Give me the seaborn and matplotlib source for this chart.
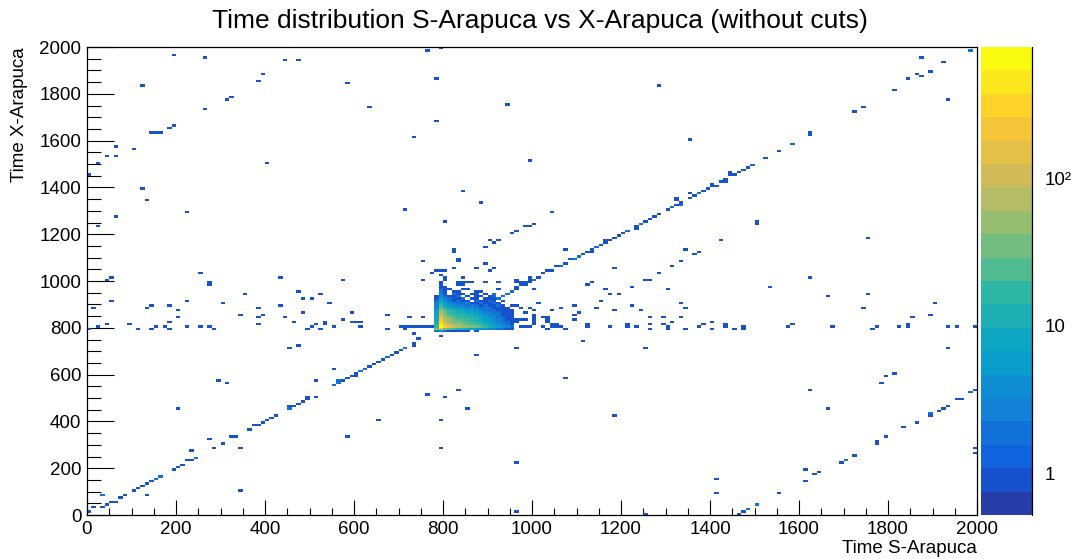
import numpy as np
import pandas as pd
import matplotlib
matplotlib.use("Agg")
import matplotlib.pyplot as plt
import seaborn as sns
from matplotlib.colors import LinearSegmentedColormap, ListedColormap, LogNorm
from matplotlib.ticker import MultipleLocator, FixedLocator, NullFormatter, LogLocator

# ---------------- data (bin lower edges, 10-unit bins) ----------------
title = "Time distribution S-Arapuca vs X-Arapuca (without cuts)"
x_label = "Time S-Arapuca"
y_label = "Time X-Arapuca"
x_ticks = [0, 200, 400, 600, 800, 1000, 1200, 1400, 1600, 1800, 2000]
y_ticks = [0, 200, 400, 600, 800, 1000, 1200, 1400, 1600, 1800, 2000]
z_ticks = [1, 10, 100]
z_tick_labels = ["1", "10", "10\u00b2"]

# cells with a single entry
single_hits = [
    (190,1960),(260,1950),(440,1940),(470,1940),(390,1880),(380,1850),(120,1830),(580,1840),
    (320,1780),(310,1770),(260,1730),(630,1740),(190,1660),(180,1650),(140,1630),(150,1630),
    (160,1630),(60,1570),(100,1560),(40,1530),(60,1530),(20,1500),(400,1500),(0,1450),
    (120,1390),(130,1340),(220,1290),(60,1270),(20,1230),(250,1030),(50,1010),(40,1000),
    (430,1010),(570,1000),(270,990),
    (760,1980),(790,1990),(780,1860),(940,1750),(1280,1830),(780,1680),(730,1610),(990,1510),
    (840,1380),(880,1330),(710,1300),(1040,1290),(800,1250),(980,1230),(990,1230),(1000,1240),
    (960,1210),(950,1200),(900,1170),(910,1160),(920,1170),(890,1140),(820,1120),(820,1130),
    (830,1080),(830,1090),(750,1080),(890,1070),(870,1050),(910,1050),(900,1040),(820,1050),
    (780,1040),(790,1040),(800,1040),(770,1030),(790,1020),(800,1010),(800,1000),(750,1000),
    (840,1010),(860,990),(830,990),(840,990),(920,990),(960,990),(970,990),(980,990),
    (1070,1130),(1180,1050),(1310,1060),(1280,1030),(1250,1000),(1260,1000),(1130,990),
    (990,1010),(1000,1000),(1010,1010),(1020,1030),(1030,1040),(1040,1040),(1050,1060),
    (1070,1070),(1080,1090),(1110,1110),(1120,1120),(1130,1130),(1130,1120),
    (1150,1150),(1160,1160),(1160,1170),(1170,1170),(1180,1180),(1190,1190),(1200,1200),
    (1230,1230),(1230,1220),(1250,1250),(1260,1260),(1270,1270),(1280,1280),
    (1300,1300),(1320,1320),(1330,1330),(1320,1350),(1320,1340),
    (1350,1370),(1350,1350),(1360,1360),(1380,1380),(1390,1390),(1400,1410),(1400,1400),
    (1410,1400),(1420,1420),(1430,1430),(1430,1420),(1440,1460),(1440,1450),(1450,1450),
    (1460,1460),(1470,1470),(1480,1480),(1490,1490),(1520,1520),(1550,1550),
    (1620,1630),(1620,1620),(1720,1720),(1740,1740),(1810,1810),(1840,1860),(1860,1880),
    (1870,1870),(1890,1890),(1870,1950),(1920,1930),(1930,1770),(1350,1600),
    (1500,1250),(1500,1240),(1420,1170),(1750,1180),(1340,1130),(1360,1110),(1370,1120),
    (1330,1080),(1620,1010),
    (270,980),(350,940),(470,950),(520,940),(480,920),(500,920),(50,910),(220,910),(300,900),
    (540,900),(10,880),(130,880),(140,890),(180,890),(200,870),(380,880),(430,890),(200,840),
    (340,850),(380,840),(390,850),(440,840),(480,860),(590,860),(180,820),(460,820),(570,830),
    (590,820),(600,820),(610,820),(40,810),(90,810),(380,810),(510,810),(530,820),(530,810),
    (20,800),(0,790),(110,790),(140,790),(150,800),(170,800),(180,790),(220,800),(250,800),
    (270,800),(280,790),(490,790),(500,800),(520,790),(550,800),(610,800),
    (450,710),(470,720),(550,620),(290,570),(310,560),(510,570),(200,450),(650,400),(580,330),
    (270,320),(300,300),(280,280),(340,280),(230,270),(340,100),(130,80),
    (0,10),(10,30),(30,30),(40,40),(50,50),(60,50),(70,70),(80,80),(100,100),(110,110),
    (120,120),(130,130),(140,140),(190,190),(200,200),(210,210),(220,230),(230,230),
    (320,330),(330,330),(360,360),(370,380),(380,380),(390,390),(400,400),(410,410),(420,420),
    (450,460),(460,460),(470,470),(480,480),(490,500),(490,490),(510,500),(570,570),(580,580),
    (590,590),(600,600),(600,590),(630,630),(640,640),(650,650),(660,660),
    (680,680),(690,690),(700,700),(730,730),(730,720),(740,750),(730,770),(790,760),
    (870,680),(960,710),(1110,740),(1250,710),(1070,580),(760,510),(800,500),(830,530),
    (850,450),(790,400),(1180,420),(790,280),(960,220),(960,10),(1250,0),
    (670,850),(720,840),(750,840),(670,790),(700,800),(710,800),(710,790),(720,800),(730,800),
    (740,800),(750,800),(760,800),(770,800),
    (960,970),(960,960),(970,980),(980,980),(990,990),(1000,960),(960,1000),(990,1000),
    (1010,900),(1060,880),(1040,870),(950,890),(960,890),(970,880),(990,880),(1000,870),
    (980,860),(940,870),(950,860),(960,830),(970,830),(980,830),(960,820),(1000,850),
    (1000,840),(1000,830),(1000,820),(1000,810),(970,800),(980,800),(990,800),(1020,840),
    (1030,840),(1030,830),(1030,820),(1020,800),(1040,800),(1050,800),(1060,800),(1040,810),
    (1050,810),(1070,790),(1030,790),
    (1120,980),(1160,960),(1170,940),(1190,940),(1220,970),(1300,960),(1150,910),(1090,890),
    (1220,890),(1330,900),(1140,880),(1100,860),(1180,870),(1240,870),(1090,850),(1090,830),
    (1260,840),(1290,840),(1310,820),(1330,840),(1120,810),(1120,800),(1170,800),(1210,810),
    (1210,800),(1230,800),(1260,810),(1260,790),(1290,810),(1300,800),(1300,790),
    (1530,970),(1340,880),(1660,930),(1750,940),(1740,880),(1900,900),(1850,840),(1890,850),
    (1340,790),(1370,800),(1380,810),(1400,820),(1400,790),(1430,810),(1430,800),(1450,790),
    (1470,800),(1470,790),(1570,800),(1580,810),(1670,800),(1760,790),(1770,800),(1820,800),
    (1840,810),(1840,800),(1930,800),(1950,800),(1990,800),(1930,710),(1620,530),(1660,450),
    (1780,560),(1790,590),(1810,600),(1990,530),(1950,490),(1960,490),(1930,460),
    (1920,450),(1910,440),(1890,420),(1860,390),(1830,370),(1790,330),(1770,310),
    (1770,300),(1720,250),(1690,220),(1640,180),(1630,170),(1610,190),(1610,140),
    (1410,150),(1410,90),(1550,90),(1470,10),(1460,0),(1990,280),(1990,260),
]

# cells with two entries (lighter blue)
double_hits = [
    (30,80),(150,150),(160,160),(240,240),(450,450),(550,550),(560,560),(560,570),(610,610),
    (620,620),(670,670),(710,710),(1000,1000),(1060,1060),(1090,1090),(1100,1100),
    (1140,1140),(1210,1210),(1240,1240),(1310,1310),(1330,1320),(1370,1370),(1490,1490),
    (1580,1580),(1980,1980),(1480,20),(1500,40),(1700,230),(1890,430),(1980,520),
]

# dense region around (800, 800): rows from y=990 down to y=780, columns x=780..950
cluster_x0 = 780
cluster_y_top = 990
cluster_counts = [
    [0, 1, 0, 0, 0, 0, 1, 1, 0, 0, 0, 1, 0, 0, 0, 0, 0, 0],
    [0, 1, 0, 0, 0, 1, 1, 0, 0, 0, 0, 0, 0, 0, 0, 0, 0, 0],
    [0, 1, 1, 0, 0, 0, 0, 0, 0, 0, 0, 0, 0, 0, 0, 0, 0, 0],
    [0, 2, 1, 1, 0, 0, 1, 1, 0, 0, 0, 0, 0, 0, 1, 0, 0, 0],
    [0, 2, 1, 0, 1, 1, 0, 0, 0, 1, 1, 0, 0, 0, 0, 0, 0, 2],
    [0, 3, 1, 0, 2, 1, 1, 0, 1, 1, 0, 1, 0, 2, 0, 0, 2, 0],
    [1, 4, 2, 1, 1, 2, 0, 1, 0, 1, 1, 0, 1, 2, 0, 2, 0, 0],
    [1, 6, 3, 2, 1, 1, 2, 0, 1, 1, 0, 1, 1, 1, 2, 0, 0, 0],
    [2, 8, 4, 2, 1, 2, 1, 1, 0, 2, 1, 1, 2, 1, 0, 1, 0, 0],
    [3, 12, 6, 4, 3, 2, 2, 3, 1, 1, 2, 1, 1, 2, 1, 0, 0, 0],
    [3, 18, 9, 6, 4, 3, 3, 2, 3, 2, 1, 2, 1, 1, 2, 1, 0, 0],
    [4, 28, 14, 9, 6, 5, 4, 4, 3, 3, 2, 2, 2, 1, 1, 1, 1, 0],
    [5, 45, 22, 14, 10, 8, 7, 6, 5, 4, 3, 2, 2, 2, 1, 1, 0, 1],
    [6, 70, 32, 20, 15, 12, 10, 9, 7, 6, 4, 3, 3, 2, 2, 1, 1, 0],
    [7, 110, 45, 28, 20, 16, 14, 12, 10, 8, 6, 4, 3, 3, 2, 1, 1, 1],
    [8, 160, 60, 36, 26, 20, 17, 15, 12, 10, 7, 5, 4, 3, 2, 2, 1, 1],
    [9, 220, 75, 45, 32, 25, 21, 18, 15, 12, 9, 6, 5, 4, 3, 2, 1, 1],
    [10, 300, 100, 55, 40, 32, 26, 22, 18, 14, 11, 8, 6, 4, 3, 2, 2, 1],
    [12, 420, 150, 80, 55, 42, 34, 28, 23, 18, 14, 10, 7, 5, 4, 3, 2, 1],
    [14, 700, 280, 150, 100, 75, 60, 50, 40, 32, 24, 17, 12, 9, 6, 4, 3, 2],
    [40, 90, 35, 22, 16, 13, 10, 8, 7, 6, 5, 4, 3, 3, 2, 2, 1, 1],
    [2, 4, 2, 1, 1, 1, 1, 1, 0, 1, 0, 0, 0, 0, 0, 0, 0, 0],
]

# ---------------- build the table ----------------
records = [(x, y, 1) for x, y in single_hits] + [(x, y, 2) for x, y in double_hits]
for i, row in enumerate(cluster_counts):
    yy = cluster_y_top - 10 * i
    for j, c in enumerate(row):
        if c > 0:
            records.append((cluster_x0 + 10 * j, yy, c))
df = pd.DataFrame(records, columns=["x", "y", "n"])
df = df.groupby(["x", "y"], as_index=False)["n"].max()
df["x"] = df["x"] + 5
df["y"] = df["y"] + 5

# ---------------- ROOT kBird palette, 20 contour levels ----------------
bird_r = [0.2082, 0.0592, 0.0780, 0.0232, 0.1802, 0.5301, 0.8186, 0.9956, 0.9764]
bird_g = [0.1664, 0.3599, 0.5041, 0.6419, 0.7178, 0.7492, 0.7328, 0.7862, 0.9832]
bird_b = [0.5293, 0.8684, 0.8385, 0.7914, 0.6425, 0.4662, 0.3499, 0.1968, 0.0539]
smooth = LinearSegmentedColormap.from_list("bird", list(zip(bird_r, bird_g, bird_b)), N=255)
n_levels = 20
cmap = ListedColormap([smooth(int((i + 0.99) * 255 / n_levels) / 254.0) for i in range(n_levels)])
z_min, z_max = 0.52, 775

# ---------------- figure ----------------
sns.set_style("white")
plt.rcParams["font.family"] = ["Liberation Sans", "DejaVu Sans"]
for key in ["text.color", "axes.labelcolor", "xtick.color", "ytick.color"]:
    plt.rcParams[key] = "black"

W, H = 1073, 559
fig = plt.figure(figsize=(W / 100, H / 100), dpi=100)
ax = fig.add_axes([87 / W, 44 / H, 890 / W, 468 / H])
cax = fig.add_axes([981 / W, 44 / H, 51 / W, 468 / H])

sns.histplot(data=df, x="x", y="y", weights="n", binwidth=10,
             binrange=((0, 2000), (0, 2000)), cmap=cmap, vmin=z_min, vmax=z_max,
             cbar=False, ax=ax)
mesh = ax.collections[0]
mesh.set_norm(LogNorm(vmin=z_min, vmax=z_max))
cbar = fig.colorbar(mesh, cax=cax)

ax.set_xlim(0, 2000)
ax.set_ylim(0, 2000)
ax.xaxis.set_major_locator(FixedLocator(x_ticks))
ax.yaxis.set_major_locator(FixedLocator(y_ticks))
ax.xaxis.set_minor_locator(MultipleLocator(50))
ax.yaxis.set_minor_locator(MultipleLocator(50))
ax.tick_params(axis="both", which="both", direction="in", colors="black",
               labelsize=13.5, width=0.8, top=False, right=False, bottom=True, left=True)
ax.tick_params(axis="x", which="major", length=10.8, pad=4)
ax.tick_params(axis="x", which="minor", length=5.4)
ax.tick_params(axis="y", which="major", length=19.4, pad=4)
ax.tick_params(axis="y", which="minor", length=10)
for s in ax.spines.values():
    s.set_visible(True)
    s.set_color("black")
    s.set_linewidth(0.9)
ax.set_xlabel(x_label, fontsize=13.5, loc="right", labelpad=2, color="black")
ax.set_ylabel(y_label, fontsize=13.5, loc="top", labelpad=8, color="black")
ax.grid(False)

# colour bar
cbar.outline.set_visible(False)
cax.yaxis.set_ticks_position("right")
cax.yaxis.set_major_locator(FixedLocator(z_ticks))
cax.set_yticklabels(z_tick_labels)
cax.yaxis.set_minor_locator(LogLocator(base=10, subs=np.arange(2, 10)))
cax.yaxis.set_minor_formatter(NullFormatter())
cax.tick_params(axis="y", which="both", direction="in", colors="black", labelsize=13.5, width=0.8)
cax.tick_params(axis="y", which="major", length=19.4, pad=9)
cax.tick_params(axis="y", which="minor", length=10)
cax.plot([1, 1], [0, 1], transform=cax.transAxes, color="black", lw=0.9, clip_on=False)

fig.text(0.503, 0.962, title, ha="center", va="center", fontsize=19, color="black")

fig.savefig("out.png", dpi=100)
